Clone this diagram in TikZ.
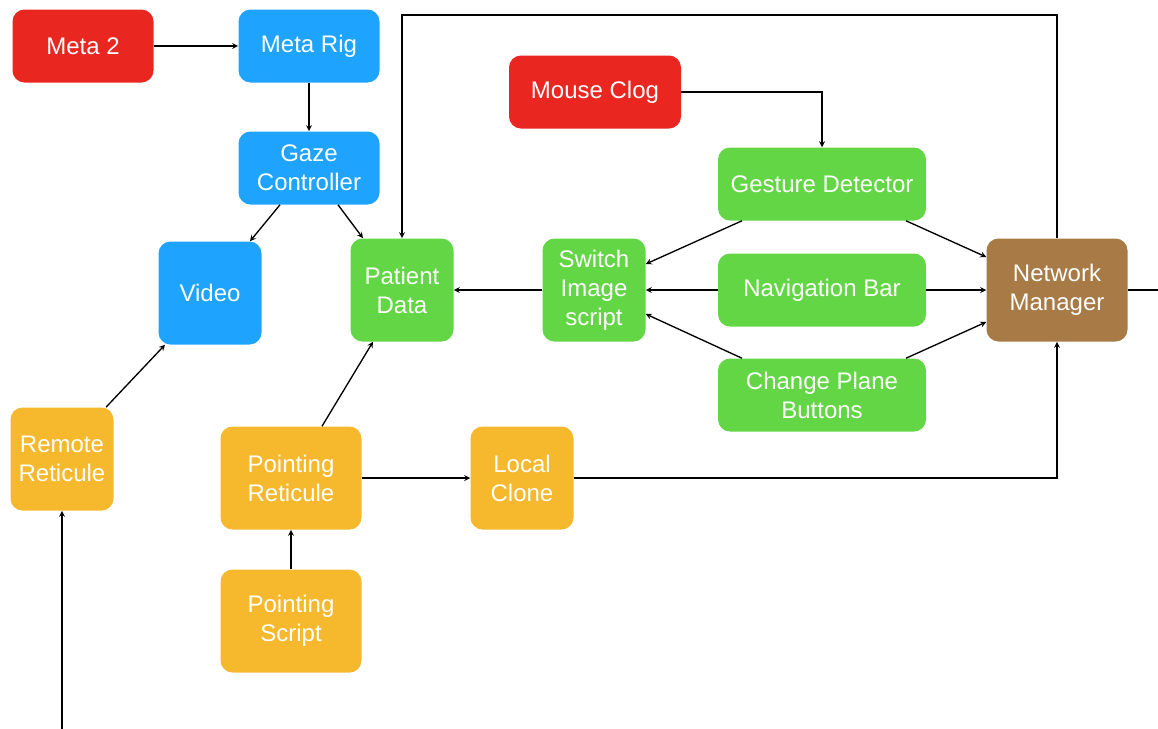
\documentclass[tikz,border=0pt]{standalone}
\usepackage{fontspec}
\setmainfont{Liberation Sans}
\usepackage{tikz}
\usetikzlibrary{arrows.meta, positioning}
\definecolor{metared}{HTML}{EA2620}
\definecolor{rigblue}{HTML}{1EA4FE}
\definecolor{uigreen}{HTML}{63D645}
\definecolor{retorange}{HTML}{F6B82D}
\definecolor{netbrown}{HTML}{A87A46}
\tikzstyle{block} = [rectangle, rounded corners=9pt, text=white, align=center,
    inner sep=2pt, font=\fontsize{18}{21.8}\selectfont]
\tikzstyle{wide} = [block, minimum width=105.75pt, minimum height=54.75pt]
\tikzstyle{bar} = [block, minimum width=156pt, minimum height=54.75pt, fill=uigreen]
\tikzstyle{square} = [block, minimum width=77.25pt, minimum height=77.25pt]
\tikzstyle{tall} = [block, minimum width=105.75pt, minimum height=77.25pt]
\tikzstyle{arrow} = [line width=1pt,->,>=stealth]

\begin{document}
\begin{tikzpicture}[x=0.75pt, y=-0.75pt]
  \useasboundingbox (0,0) rectangle (1158,729);
  \node (meta)  [wide, fill=metared] at (83,46) {Meta 2};
  \node (rig)   [wide, fill=rigblue] at (309,46) {Meta Rig};
  \node (gaze)  [wide, fill=rigblue] at (309,168) {Gaze\\Controller};
  \node (video) [square, fill=rigblue] at (210,293) {Video};
  \node (pat)   [square, fill=uigreen] at (402,290) {Patient\\Data};
  \node (mouse) [block, fill=metared, minimum width=129pt, minimum height=54.75pt] at (595,92) {Mouse Clog};
  \node (gest)  [bar] at (822,184) {Gesture Detector};
  \node (nav)   [bar] at (822,290) {Navigation Bar};
  \node (plane) [bar] at (822,395) {Change Plane\\Buttons};
  \node (swim)  [square, fill=uigreen] at (594,290) {Switch\\Image\\script};
  \node (net)   [tall, fill=netbrown] at (1057,290) {Network\\Manager};
  \node (rem)   [square, fill=retorange] at (62,459) {Remote\\Reticule};
  \node (pret)  [tall, fill=retorange] at (291,478) {Pointing\\Reticule};
  \node (clone) [square, fill=retorange] at (522,478) {Local\\Clone};
  \node (pscr)  [tall, fill=retorange] at (291,621) {Pointing\\Script};
  \coordinate (top) at (402,15);
  \coordinate (out) at (1158,290);
  \coordinate (in)  at (62,729);

  \draw[arrow] (meta) -- (rig);
  \draw[arrow] (rig) -- (gaze);
  \draw[arrow] ([xshift=-21.75pt]gaze.south) -- ([xshift=30pt]video.north);
  \draw[arrow] ([xshift=21.75pt]gaze.south) -- ([xshift=-29.25pt]pat.north);
  \draw[arrow] (net.north) |- (top) -- (pat.north);
  \draw[arrow] (mouse.east) -| (gest.north);
  \draw[arrow] ([xshift=-60pt]gest.south) -- ([yshift=19.5pt]swim.east);
  \draw[arrow] ([xshift=63pt]gest.south) -- ([yshift=24.75pt]net.west);
  \draw[arrow] (nav) -- (swim);
  \draw[arrow] (nav) -- (net);
  \draw[arrow] ([xshift=-60pt]plane.north) -- ([yshift=-18pt]swim.east);
  \draw[arrow] ([xshift=63pt]plane.north) -- ([yshift=-24pt]net.west);
  \draw[arrow] (swim) -- (pat);
  \draw[line width=1pt] (net.east) -- (out);
  \draw[arrow] ([xshift=33pt]rem.north) -- ([xshift=-33.75pt]video.south);
  \draw[arrow] (in) -- (rem.south);
  \draw[arrow] ([xshift=23.25pt]pret.north) -- ([xshift=-21.75pt]pat.south);
  \draw[arrow] (pret) -- (clone);
  \draw[arrow] (pscr) -- (pret);
  \draw[arrow] (clone.east) -| (net.south);
\end{tikzpicture}
\end{document}
